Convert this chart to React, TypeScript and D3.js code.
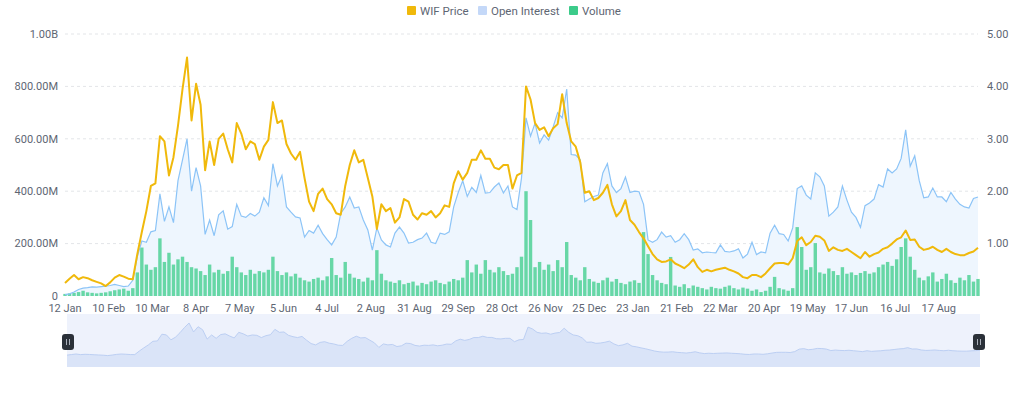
import * as d3 from "d3"

// one sample every 3 days, 12 Jan 2024 -> mid Sep 2025
const DAY_STEP = 3
const LAST_DAY = 606

// WIF price, USD (right axis)
const PRICE = [
  0.25, 0.33, 0.40, 0.32, 0.36, 0.34, 0.30, 0.27, 0.24, 0.19, 0.26, 0.35, 0.40, 0.37, 0.33, 0.32, 0.80, 1.22, 1.62, 2.10,
  2.15, 3.05, 2.95, 2.30, 2.65, 3.25, 3.95, 4.55, 3.35, 4.05, 3.65, 2.40, 2.95, 2.50, 3.00, 3.10, 2.80, 2.55, 3.30, 3.10,
  2.80, 2.95, 2.90, 2.60, 2.85, 2.98, 3.70, 3.30, 3.35, 2.90, 2.72, 2.60, 2.75, 2.25, 1.80, 1.62, 1.95, 2.05, 1.85, 1.75,
  1.58, 1.55, 2.10, 2.50, 2.78, 2.55, 2.60, 2.25, 1.90, 1.28, 1.75, 1.62, 1.68, 1.40, 1.50, 1.85, 1.80, 1.55, 1.46, 1.58,
  1.55, 1.62, 1.50, 1.58, 1.73, 1.70, 2.15, 2.38, 2.22, 2.35, 2.60, 2.60, 2.78, 2.62, 2.62, 2.45, 2.42, 2.50, 2.50, 2.05,
  2.30, 2.35, 4.00, 3.75, 3.30, 3.17, 3.22, 3.05, 3.20, 3.28, 3.85, 3.30, 2.95, 2.85, 2.55, 1.97, 2.00, 1.83, 1.87, 1.97,
  2.12, 1.75, 1.52, 1.62, 1.83, 1.45, 1.36, 1.22, 1.10, 0.95, 0.80, 0.70, 0.65, 0.66, 0.70, 0.62, 0.58, 0.53, 0.60, 0.70,
  0.55, 0.46, 0.50, 0.47, 0.50, 0.52, 0.54, 0.50, 0.47, 0.43, 0.36, 0.34, 0.40, 0.40, 0.36, 0.43, 0.53, 0.62, 0.63, 0.63,
  0.60, 0.72, 1.05, 1.12, 0.97, 1.03, 1.15, 1.13, 1.06, 0.86, 0.93, 0.88, 0.86, 0.90, 0.84, 0.78, 0.72, 0.84, 0.75, 0.80,
  0.83, 0.90, 0.93, 1.00, 1.08, 1.12, 1.25, 1.07, 1.08, 0.94, 0.88, 0.90, 0.94, 0.88, 0.84, 0.90, 0.84, 0.80, 0.78, 0.78,
  0.82, 0.85, 0.92,
]

// open interest, millions USD (left axis)
const OPEN_INTEREST = [
  5, 8, 15, 25, 30, 32, 35, 34, 36, 38, 40, 44, 40, 36, 38, 60, 150, 210, 205, 245,
  250, 390, 285, 340, 280, 440, 520, 600, 400, 490, 420, 235, 290, 230, 310, 325, 255, 265, 350, 305,
  300, 315, 305, 320, 375, 345, 505, 420, 460, 340, 320, 302, 298, 225, 250, 240, 270, 238, 215, 195,
  225, 315, 340, 378, 336, 340, 290, 252, 175, 260, 214, 195, 187, 240, 263, 240, 202, 205, 215, 221,
  240, 205, 200, 240, 235, 245, 340, 395, 440, 380, 415, 395, 460, 393, 395, 416, 431, 393, 420, 340,
  330, 450, 680, 610, 660, 584, 615, 595, 645, 700, 680, 790, 540, 538, 520, 360, 370, 380, 385, 470,
  505, 420, 395, 410, 454, 395, 400, 398, 350, 214, 205, 215, 244, 225, 230, 205, 215, 238, 215, 175,
  180, 165, 168, 166, 165, 195, 170, 168, 172, 180, 145, 160,
  205, 158, 168, 165, 240, 270, 238, 235, 210, 260, 410, 420, 385, 370, 470, 455, 420, 305, 320, 340,
  420, 366, 320, 300, 262, 345, 355, 370, 425, 416, 485, 470, 485, 525, 634, 495, 535, 440, 375, 378,
  412, 378, 378, 360, 395, 370, 350, 340, 336, 372, 378,
]

// traded volume, millions USD (left axis)
const VOLUME = [
  8, 10, 12, 15, 20, 14, 12, 10, 12, 14, 18, 22, 25, 28, 20, 30,
  90, 185, 120, 100, 110, 220, 130, 165, 120, 140, 150, 130, 110, 105, 95,
  80, 120, 90, 100, 85, 95, 150, 110, 90, 80, 100, 85, 95, 90, 100, 150, 95, 80, 90, 75, 85, 70,
  60, 55, 65, 70, 60, 75, 145, 80, 70, 130, 85, 70, 65, 55, 70, 60, 175, 85, 60, 55,
  50, 60, 45, 50, 55, 40, 50, 45, 55, 60, 50, 45, 55, 65, 60, 70, 137, 90, 120, 85,
  137, 100, 90, 110, 95, 80, 85, 110, 150,
  400, 290, 110, 130, 100, 120, 95, 137, 110, 206, 80, 70, 60, 110, 65, 55, 50, 60, 70, 55,
  65, 50, 45, 55, 60, 50, 244,
  160, 80, 60, 50, 45, 149, 40, 35, 45, 30, 40, 35, 30, 25, 35, 30, 28, 35, 40, 30,
  25, 32, 28, 20, 25, 15, 20, 35, 73, 30, 25, 20, 30,
  263, 187, 100, 110, 202, 90, 85, 105, 95, 80, 110, 85, 90, 80, 88, 95, 85, 90, 110, 120,
  130, 115, 140, 187, 220, 150, 100, 70, 60, 75, 90, 55, 65, 85, 60, 50, 70, 60, 80, 55, 65,
]

// labels every 29 days
const X_LABELS = [
  "12 Jan", "10 Feb", "10 Mar", "8 Apr", "7 May", "5 Jun", "4 Jul", "2 Aug", "31 Aug", "29 Sep", "28 Oct",
  "26 Nov", "25 Dec", "23 Jan", "21 Feb", "22 Mar", "20 Apr", "19 May", "17 Jun", "16 Jul", "17 Aug",
]
const LABEL_EVERY = 29
const LEFT_TICKS = [0, 200e6, 400e6, 600e6, 800e6, 1e9]
const RIGHT_TICKS = [1, 2, 3, 4, 5]

const LEGEND = [
  { name: "WIF Price", color: "#F0B90B" },
  { name: "Open Interest", color: "#c4d8f8" },
  { name: "Volume", color: "#3ccb8a" },
]

const FONT = "Roboto, 'Noto Sans', sans-serif"
const TEXT = "#5e6673"

function fmtLeft(v: number) {
  if (v === 0) return "0"
  if (v >= 1e9) return (v / 1e9).toFixed(2) + "B"
  return (v / 1e6).toFixed(2) + "M"
}

export default function App() {
  const width = 1024
  const height = 393
  const m = { left: 65, right: 978, top: 34, bottom: 296 }

  const x = d3.scaleLinear().domain([0, LAST_DAY]).range([m.left, m.right])
  const yL = d3.scaleLinear().domain([0, 1e9]).range([m.bottom, m.top])
  const yR = d3.scaleLinear().domain([0, 5]).range([m.bottom, m.top])
  const day = (i: number) => i * DAY_STEP

  const oiArea = d3.area<number>()
    .x((_, i) => x(day(i)))
    .y0(yL(0))
    .y1(d => yL(d * 1e6))
  const oiLine = d3.line<number>()
    .x((_, i) => x(day(i)))
    .y(d => yL(d * 1e6))
  const priceLine = d3.line<number>()
    .x((_, i) => x(day(i)))
    .y(d => yR(d))

  const barW = 3.4

  // data-zoom slider
  const sx = d3.scaleLinear().domain([0, LAST_DAY]).range([67, 980])
  const sy = d3.scaleLinear().domain([0, d3.max(PRICE) as number]).range([357, 323])
  const sTop = 314
  const sBottom = 367
  const sArea = d3.area<number>().x((_, i) => sx(day(i))).y0(sBottom).y1(d => sy(d))
  const sLine = d3.line<number>().x((_, i) => sx(day(i))).y(d => sy(d))

  const legendX = [407, 478, 569]

  return (
    <svg width={width} height={height} style={{ position: "absolute", left: 0, top: 0, display: "block", background: "#fff" }}
      fontFamily={FONT}>
      {/* legend */}
      {LEGEND.map((l, i) => (
        <g key={l.name} transform={`translate(${legendX[i]},6)`}>
          <rect width={9} height={9} rx={1} fill={l.color} />
          <text x={13} y={8.5} fontSize={11.5} fill={TEXT}>{l.name}</text>
        </g>
      ))}

      {/* grid */}
      {LEFT_TICKS.filter(t => t > 0).map(t => (
        <line key={t} x1={m.left} x2={m.right} y1={yL(t)} y2={yL(t)} stroke="#e3e5e8" strokeDasharray="3 3" />
      ))}

      {/* left axis labels */}
      {LEFT_TICKS.map(t => (
        <text key={t} x={58} y={yL(t)} dy="0.35em" textAnchor="end" fontSize={11} fill={TEXT}>{fmtLeft(t)}</text>
      ))}
      {/* right axis labels */}
      {RIGHT_TICKS.map(t => (
        <text key={t} x={987} y={yR(t)} dy="0.35em" textAnchor="start" fontSize={11} fill={TEXT}>{t.toFixed(2)}</text>
      ))}

      {/* open interest area */}
      <path d={oiArea(OPEN_INTEREST) || ""} fill="#eef6fe" />

      {/* volume bars */}
      {VOLUME.map((v, i) => (
        <rect key={i} x={x(day(i)) - barW / 2} y={yL(v * 1e6)} width={barW} height={yL(0) - yL(v * 1e6)}
          fill="#4fd197" fillOpacity={0.85} />
      ))}

      <path d={oiLine(OPEN_INTEREST) || ""} fill="none" stroke="#8cc4f7" strokeWidth={1.2} />
      <path d={priceLine(PRICE) || ""} fill="none" stroke="#F0B90B" strokeWidth={2} strokeLinejoin="round" />

      {/* x labels */}
      {X_LABELS.map((l, k) => (
        <text key={l + k} x={x(k * LABEL_EVERY)} y={312} textAnchor="middle" fontSize={11} fill={TEXT}>{l}</text>
      ))}

      {/* slider */}
      <rect x={67} y={sTop} width={913} height={sBottom - sTop} fill="#eef2fc" />
      <path d={sArea(PRICE) || ""} fill="#dae4f8" />
      <path d={sLine(PRICE) || ""} fill="none" stroke="#bccff3" strokeWidth={1} />
      {[68, 979].map(cx => (
        <g key={cx}>
          <rect x={cx - 6} y={334} width={12} height={16} rx={3} fill="#2b3139" />
          <line x1={cx - 1.5} x2={cx - 1.5} y1={339} y2={345} stroke="#aab0ba" />
          <line x1={cx + 1.5} x2={cx + 1.5} y1={339} y2={345} stroke="#aab0ba" />
        </g>
      ))}
    </svg>
  )
}
